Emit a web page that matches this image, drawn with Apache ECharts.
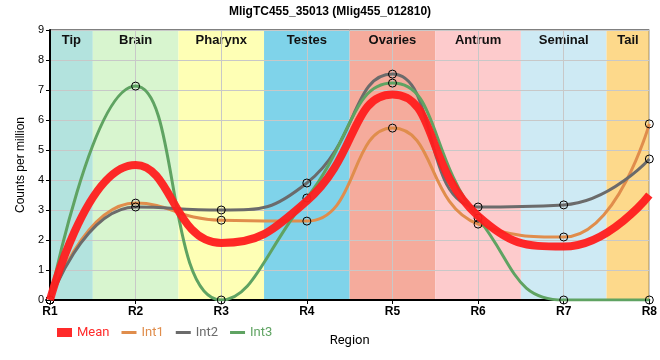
<!DOCTYPE html>
<html><head><meta charset="utf-8">
<script src="https://cdn.jsdelivr.net/npm/echarts@6/dist/echarts.min.js"></script>
<style>html,body{margin:0;padding:0;background:#fff}#c{width:660px;height:360px}</style>
</head><body><div id="c"></div>
<script>
const categories = ['R1','R2','R3','R4','R5','R6','R7','R8'];
const meanVals = [0, 4.5, 1.9, 3.3, 6.85, 2.8, 1.78, 3.5];
const int1Vals = [0, 3.23, 2.66, 2.63, 5.73, 2.53, 2.1, 5.87];
const int2Vals = [0, 3.1, 3.0, 3.9, 7.53, 3.1, 3.17, 4.7];
const int3Vals = [0, 7.13, 0, 3.4, 7.23, 2.73, 0, 0];
const regions = ['Tip','Brain','Pharynx','Testes','Ovaries','Antrum','Seminal','Tail'];
const regionColors = ['#b3e3de','#d8f5cf','#feffb5','#7fd3ea','#f5ab9c','#fdcbcc','#ceeaf4','#fdd98b'];

const bands = regions.map((r,i)=>{
  const s = i===0 ? 0 : i-0.5;
  const e = i===regions.length-1 ? regions.length-1 : i+0.5;
  return [{name:r, xAxis:s, itemStyle:{color:regionColors[i]}}, {xAxis:e}];
});

const chart = echarts.init(document.getElementById('c'), null, {renderer:'canvas'});
const lineIcon = 'path://M0,0L0,0M0,3H15V6H0ZM15,9L15,9';
const sym = {symbol:'circle', symbolSize:8, itemStyle:{color:'rgba(0,0,0,0)', borderColor:'#000', borderWidth:1}};
function legItem(name, icon, c){
  return {name, icon, itemStyle:{color:c, borderColor:c, borderWidth:0, opacity:1}, textStyle:{color:c}};
}
chart.setOption({
  animation:false,
  textStyle:{fontFamily:'Liberation Sans, Arial, sans-serif'},
  title:{text:'MligTC455_35013 (Mlig455_012810)', left:'center', top:1,
    textStyle:{fontSize:12, fontWeight:'bold', color:'#000', fontFamily:'Liberation Sans'}},
  grid:{left:50, right:9, top:30, bottom:60, show:true, borderColor:'#000', borderWidth:1, backgroundColor:'transparent', zlevel:1},
  legend:{left:52, top:321, itemGap:12, itemWidth:15, itemHeight:9,
    textStyle:{fontSize:13, fontFamily:'Roboto'},
    data:[
      legItem('Mean','rect','#ff2a2a'),
      legItem('Int1',lineIcon,'#e08d4c'),
      legItem('Int2',lineIcon,'#6b6b6b'),
      legItem('Int3',lineIcon,'#5fa362')
    ]},
  xAxis:[{type:'category', data:categories, boundaryGap:false, zlevel:1, z:0,
    name:'Region', nameLocation:'middle', nameGap:34,
    nameTextStyle:{fontSize:13, color:'#000', fontFamily:'Roboto'},
    axisLine:{lineStyle:{color:'#000', width:2}},
    axisTick:{show:true, length:4, lineStyle:{color:'#000'}},
    axisLabel:{fontSize:12, color:'#000', fontWeight:'bold', margin:6},
    splitLine:{show:true, lineStyle:{color:'#c8c8c8', width:1}}},
    {type:'value', min:0, max:categories.length-1, show:false}],
  yAxis:{type:'value', min:0, max:9, interval:1, zlevel:1, z:0,
    name:'Counts per million', nameLocation:'middle', nameGap:17,
    nameTextStyle:{fontSize:12, color:'#000', fontFamily:'Liberation Sans'},
    axisLine:{show:true, lineStyle:{color:'#000', width:2}},
    axisTick:{show:true, length:4, lineStyle:{color:'#000'}},
    axisLabel:{fontSize:11, color:'#000', margin:6},
    splitLine:{show:true, lineStyle:{color:'#c8c8c8', width:1}}},
  series:[
    {name:'Bands', type:'line', xAxisIndex:1, data:[], silent:true, zlevel:0,
      markArea:{silent:true, zlevel:0, label:{show:true, position:'insideTop', distance:4, fontSize:13, fontWeight:'bold', color:'#111'}, data:bands}},
    {name:'Int1', type:'line', data:int1Vals, smooth:0.5, zlevel:1, z:8, color:'#e08d4c',
      lineStyle:{color:'#e08d4c', width:3}, ...sym},
    {name:'Int2', type:'line', data:int2Vals, smooth:0.5, zlevel:1, z:8, color:'#6b6b6b',
      lineStyle:{color:'#6b6b6b', width:3}, ...sym},
    {name:'Int3', type:'line', data:int3Vals, smooth:0.5, zlevel:1, z:8, color:'#5fa362',
      lineStyle:{color:'#5fa362', width:3}, ...sym},
    {name:'Mean', type:'line', data:meanVals, smooth:0.5, zlevel:1, z:9, color:'#ff2a2a', symbol:'none',
      lineStyle:{color:'rgba(255,30,30,0.95)', width:8}}
  ]
});
</script></body></html>
